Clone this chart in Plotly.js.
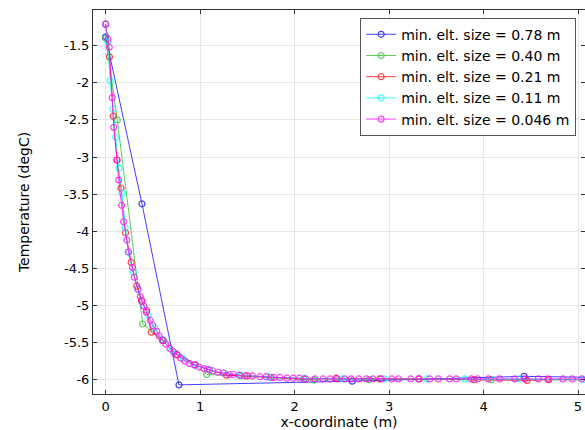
<!DOCTYPE html>
<html>
<head>
<meta charset="utf-8">
<script src="https://cdn.plot.ly/plotly-3.0.1.min.js"></script>
<style>html,body{margin:0;padding:0;background:#fff;}#chart{width:585px;height:430px;}</style>
</head>
<body>
<div id="chart"></div>
<script>
// ---- data ----
var seriesNames = ["min. elt. size = 0.78 m", "min. elt. size = 0.40 m", "min. elt. size = 0.21 m", "min. elt. size = 0.11 m", "min. elt. size = 0.046 m"];

var x078 = [0, 0.384, 0.776, 2.61, 4.43, 6.25];
var y078 = [-1.38, -3.63, -6.07, -6.02, -5.955, -5.99];

var x040 = [0, 0.123, 0.392, 0.61, 1.07, 1.43, 2.20, 2.79, 4.08, 5.37];
var y040 = [-1.40, -2.50, -5.25, -5.47, -5.93, -5.95, -6.005, -6.00, -6.00, -6.00];

var x021 = [0, 0.04, 0.08, 0.12, 0.162, 0.21, 0.27, 0.33, 0.38, 0.434, 0.483, 0.6, 0.75, 0.95, 1.10, 1.28, 1.50, 1.75, 2.10, 2.44, 2.90, 3.32, 3.90, 4.46, 4.69, 5.2];
var y021 = [-1.21, -1.65, -2.45, -3.04, -3.42, -4.02, -4.42, -4.74, -4.93, -5.07, -5.36, -5.47, -5.66, -5.80, -5.87, -5.94, -5.95, -5.97, -5.99, -5.98, -5.99, -5.99, -6.00, -6.01, -6.00, -6.00];

var x011 = [0, 0.023, 0.046, 0.075, 0.106, 0.14, 0.173, 0.205, 0.236, 0.29, 0.34, 0.40, 0.45, 0.52, 0.60, 0.70, 0.82, 0.95, 1.10, 1.25, 1.43, 1.73, 2.1, 2.5, 2.95, 3.4, 3.80, 4.37, 5.06, 5.5];
var y011 = [-1.21, -1.45, -1.97, -2.35, -2.73, -3.15, -3.49, -3.95, -4.28, -4.55, -4.78, -5.00, -5.13, -5.30, -5.46, -5.60, -5.72, -5.81, -5.87, -5.91, -5.94, -5.965, -5.98, -5.99, -5.99, -5.99, -5.99, -5.99, -5.995, -6.00];

var x0046 = [0, 0.024, 0.038, 0.070, 0.085, 0.12, 0.138, 0.169, 0.19, 0.225, 0.243, 0.284, 0.303, 0.342, 0.366, 0.384, 0.405, 0.43, 0.472, 0.498, 0.54, 0.567, 0.607, 0.638, 0.68, 0.72, 0.758, 0.794, 0.84, 0.887, 0.938, 0.988, 1.04, 1.076, 1.133, 1.19, 1.245, 1.31, 1.35, 1.415, 1.475, 1.556, 1.633, 1.70, 1.78, 1.845, 1.92, 1.986, 2.05, 2.12, 2.215, 2.30, 2.375, 2.45, 2.53, 2.60, 2.68, 2.76, 2.83, 2.92, 3.03, 3.10, 3.23, 3.31, 3.43, 3.52, 3.64, 3.71, 3.87, 3.94, 4.05, 4.17, 4.33, 4.44, 4.58, 4.68, 4.84, 4.94, 5.04, 5.15];
var y0046 = [-1.21, -1.41, -1.52, -2.20, -2.60, -3.04, -3.31, -3.65, -3.87, -4.12, -4.28, -4.49, -4.62, -4.78, -4.88, -4.95, -5.01, -5.09, -5.20, -5.27, -5.35, -5.41, -5.47, -5.52, -5.58, -5.63, -5.67, -5.71, -5.75, -5.78, -5.80, -5.83, -5.85, -5.86, -5.88, -5.90, -5.91, -5.93, -5.93, -5.94, -5.95, -5.95, -5.96, -5.96, -5.97, -5.97, -5.98, -5.98, -5.98, -5.99, -5.99, -5.99, -5.99, -5.99, -5.99, -5.99, -5.99, -5.99, -5.99, -5.99, -5.99, -5.99, -5.99, -5.99, -5.99, -5.99, -5.99, -5.99, -5.99, -5.99, -5.99, -5.99, -5.99, -5.99, -5.99, -5.99, -5.99, -5.99, -5.99, -5.99];

var xTickVals = [0, 1, 2, 3, 4, 5];
var xTickText = ["0", "1", "2", "3", "4", "5"];
var yTickVals = [-6, -5.5, -5, -4.5, -4, -3.5, -3, -2.5, -2, -1.5];
var yTickText = ["-6", "-5.5", "-5", "-4.5", "-4", "-3.5", "-3", "-2.5", "-2", "-1.5"];

var colors = ["#0000ff", "#22c022", "#ff0000", "#00ffff", "#ff00ff"];
var xs = [x078, x040, x021, x011, x0046];
var ys = [y078, y040, y021, y011, y0046];

var FONT = "DejaVu Sans, sans-serif";
var traces = [];
for (var i = 0; i < xs.length; i++) {
  traces.push({
    type: "scatter", mode: "lines+markers", name: seriesNames[i],
    x: xs[i], y: ys[i],
    line: {color: colors[i], width: 1},
    opacity: 0.75,
    marker: {symbol: "circle-open", size: 6, color: colors[i], line: {width: 1.2, color: colors[i]}}
  });
}

var layout = {
  width: 585, height: 430,
  margin: {l: 93, r: 0, t: 10, b: 36},
  paper_bgcolor: "#ffffff", plot_bgcolor: "#ffffff",
  font: {family: FONT, size: 13, color: "#000"},
  showlegend: true,
  legend: {
    x: 0.543, y: 0.98, xanchor: "left", yanchor: "top",
    bgcolor: "#ffffff", bordercolor: "#555", borderwidth: 1,
    font: {family: FONT, size: 14, color: "#000"},
    itemwidth: 30, tracegroupgap: 0
  },
  xaxis: {
    range: [-0.134, 5.074], tickmode: "array", tickvals: xTickVals, ticktext: xTickText,
    ticks: "inside", ticklen: 4, tickcolor: "#333", showline: true, linecolor: "#333", linewidth: 1,
    mirror: "ticks", showgrid: true, gridcolor: "#e6e6e6", zeroline: false,
    tickfont: {family: FONT, size: 13, color: "#000"},
    title: {text: "x-coordinate (m)", font: {family: FONT, size: 14, color: "#000"}, standoff: 1}
  },
  yaxis: {
    range: [-6.193, -1.019], tickmode: "array", tickvals: yTickVals, ticktext: yTickText,
    ticks: "inside", ticklen: 4, tickcolor: "#333", showline: true, linecolor: "#333", linewidth: 1,
    mirror: "ticks", showgrid: true, gridcolor: "#e6e6e6", zeroline: false,
    tickfont: {family: FONT, size: 13, color: "#000"},
    title: {text: "Temperature (degC)", font: {family: FONT, size: 14, color: "#000"}, standoff: 31}
  }
};

Plotly.newPlot("chart", traces, layout, {displayModeBar: false, staticPlot: true});
</script>
</body>
</html>
